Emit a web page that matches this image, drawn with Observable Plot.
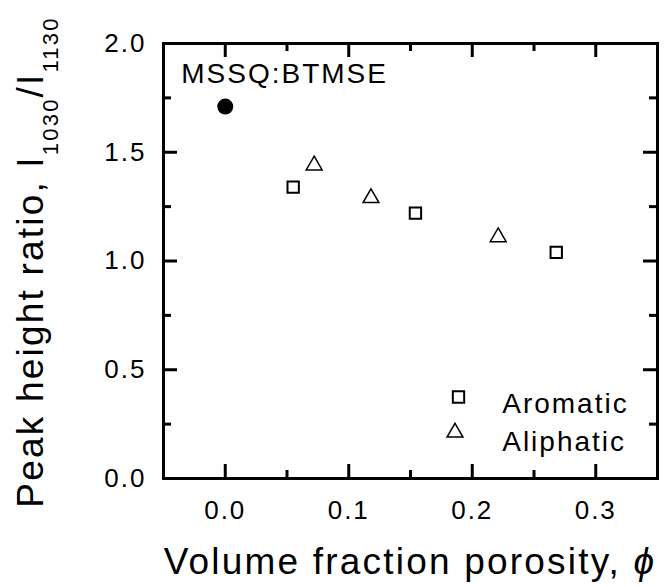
<!DOCTYPE html>
<html>
<head>
<meta charset="utf-8">
<script src="https://cdn.jsdelivr.net/npm/d3@7"></script>
<script src="https://cdn.jsdelivr.net/npm/@observablehq/plot@0.6"></script>
<style>
  html, body { margin: 0; padding: 0; background: #fff; }
  #chart svg { display: block; font-family: 'Liberation Sans', Arial, Helvetica, sans-serif; }
  #chart svg text { letter-spacing: 2px; }
  #chart svg text.title { letter-spacing: 2.2px; }
</style>
</head>
<body>
<div id="chart"></div>
<script>
// Porosity (volume fraction) and FTIR peak height ratio I1030/I1130
const aromaticPorosity = [0.055, 0.154, 0.268];
const aromaticRatio = [1.34, 1.22, 1.04];
const aliphaticPorosity = [0.072, 0.118, 0.221];
const aliphaticRatio = [1.44, 1.29, 1.11];
const neatPorosity = [0.0];
const neatRatio = [1.71];
const neatLabel = ["MSSQ:BTMSE"];
const seriesNames = ["Aromatic", "Aliphatic"];

// Axis ticks
const xTicks = [0, 0.1, 0.2, 0.3];
const xMinorTicks = [0.05, 0.15, 0.25];
const yTicks = [0, 0.5, 1.0, 1.5, 2.0];
const yMinorTicks = [0.25, 0.75, 1.25, 1.75];
const xDomain = [-0.05, 0.35];
const yDomain = [0, 2];

const aromatic = aromaticPorosity.map((x, i) => ({x, y: aromaticRatio[i]}));
const aliphatic = aliphaticPorosity.map((x, i) => ({x, y: aliphaticRatio[i]}));
const neat = neatPorosity.map((x, i) => ({x, y: neatRatio[i], label: neatLabel[i]}));

const W = 669, H = 587;
const M = {top: 43, right: 12, bottom: 109, left: 163};
const frameW = W - M.left - M.right;
const frameH = H - M.top - M.bottom;
const majorLen = 14, minorLen = 8;

const svg = Plot.plot({
  width: W,
  height: H,
  marginTop: M.top,
  marginRight: M.right,
  marginBottom: M.bottom,
  marginLeft: M.left,
  x: {domain: xDomain},
  y: {domain: yDomain},
  marks: [
    Plot.frame({stroke: "black", strokeWidth: 3}),
    // inward tick marks on all four sides
    Plot.tickX(xTicks, {x: d => d, insetTop: frameH - majorLen, stroke: "black", strokeWidth: 3}),
    Plot.tickX(xTicks, {x: d => d, insetBottom: frameH - majorLen, stroke: "black", strokeWidth: 3}),
    Plot.tickX(xMinorTicks, {x: d => d, insetTop: frameH - minorLen, stroke: "black", strokeWidth: 3}),
    Plot.tickX(xMinorTicks, {x: d => d, insetBottom: frameH - minorLen, stroke: "black", strokeWidth: 3}),
    Plot.tickY(yTicks, {y: d => d, insetRight: frameW - majorLen, stroke: "black", strokeWidth: 3}),
    Plot.tickY(yTicks, {y: d => d, insetLeft: frameW - majorLen, stroke: "black", strokeWidth: 3}),
    Plot.tickY(yMinorTicks, {y: d => d, insetRight: frameW - minorLen, stroke: "black", strokeWidth: 3}),
    Plot.tickY(yMinorTicks, {y: d => d, insetLeft: frameW - minorLen, stroke: "black", strokeWidth: 3}),
    Plot.axisX({ticks: xTicks, tickSize: 0, tickPadding: 22, tickFormat: d3.format(".1f"), fontSize: 26, label: null}),
    Plot.axisY({ticks: yTicks, tickSize: 0, tickPadding: 17, tickFormat: d3.format(".1f"), fontSize: 26, label: null}),
    Plot.dot(aromatic, {x: "x", y: "y", symbol: "square", r: 6.4, stroke: "black", strokeWidth: 2, fill: "white"}),
    Plot.dot(aliphatic, {x: "x", y: "y", symbol: "triangle", r: 5.9, stroke: "black", strokeWidth: 1.5, fill: "white"}),
    Plot.dot(neat, {x: "x", y: "y", r: 8, fill: "black"}),
    Plot.text(neat, {x: "x", y: "y", text: "label", textAnchor: "start", dx: -44, dy: -33, fontSize: 28, fill: "black"}),
    // legend
    Plot.dot([seriesNames[0]], {frameAnchor: "top-left", dx: 295, dy: 353.5, symbol: "square", r: 6.4, stroke: "black", strokeWidth: 2, fill: "white"}),
    Plot.dot([seriesNames[1]], {frameAnchor: "top-left", dx: 291.5, dy: 389, symbol: "triangle", r: 5.9, stroke: "black", strokeWidth: 1.5, fill: "white"}),
    Plot.text([seriesNames[0]], {frameAnchor: "top-left", text: d => d, textAnchor: "start", dx: 338.7, dy: 349.7, fontSize: 28, fill: "black"}),
    Plot.text([seriesNames[1]], {frameAnchor: "top-left", text: d => d, textAnchor: "start", dx: 338.7, dy: 388, fontSize: 28, fill: "black"})
  ]
});

// axis titles
const root = d3.select(svg);
const yTitle = root.append("text")
  .attr("class", "title")
  .attr("transform", `translate(43.3, 262) rotate(-90)`)
  .attr("text-anchor", "middle")
  .attr("font-size", 37)
  .attr("fill", "black");
yTitle.append("tspan").text("Peak height ratio, I");
yTitle.append("tspan").attr("dy", 15).attr("font-size", 22).text("1030");
yTitle.append("tspan").attr("dy", -15).text("/I");
yTitle.append("tspan").attr("dy", 15).attr("font-size", 22).text("1130");

const xTitle = root.append("text")
  .attr("class", "title")
  .attr("x", M.left + frameW / 2)
  .attr("y", 574)
  .attr("text-anchor", "middle")
  .attr("font-size", 37)
  .attr("fill", "black");
xTitle.append("tspan").text("Volume fraction porosity, ");
xTitle.append("tspan").attr("font-style", "italic").text("ϕ");

document.getElementById("chart").appendChild(svg);
</script>
</body>
</html>
